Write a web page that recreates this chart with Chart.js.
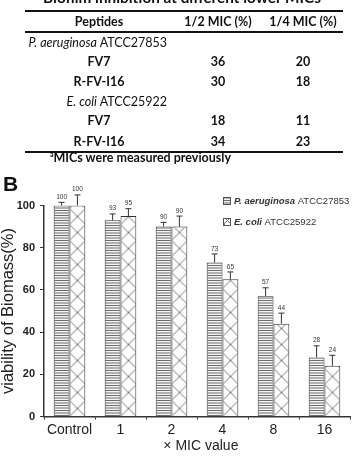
<!DOCTYPE html>
<html>
<head>
<meta charset="utf-8">
<script src="https://cdn.jsdelivr.net/npm/chart.js@4"></script>
<style>
  body { margin: 0; background: #fff; }
  #wrap { position: relative; width: 353px; height: 458px; overflow: hidden; }
  #chart { position: absolute; left: 0; top: 0; }
  .t { position: absolute; font-family: Lato, "Open Sans", sans-serif; font-size: 12.5px; color: #111; white-space: nowrap; line-height: 1; }
  .c { transform: translate(-50%, -50%); }
  .l { transform: translate(0, -50%); }
  .r { transform: translate(-100%, -50%); }
  .b { font-weight: bold; }
  .rule { position: absolute; left: 25px; width: 318px; background: #111; }
</style>
</head>
<body>
<div id="wrap">
  <canvas id="chart" width="353" height="458"></canvas>
</div>
<script>
"use strict";
{
  // table data
  const tableTitle = "Biofilm inhibition at different lower MICs";
  const tableHead = ["Peptides", "1/2 MIC (%)", "1/4 MIC (%)"];
  const strains = [["P. aeruginosa", " ATCC27853"], ["E. coli", " ATCC25922"]];
  const peptides = ["FV7", "R-FV-I16"];
  const halfMic = [[36, 30], [18, 34]];
  const quarterMic = [[20, 18], [11, 23]];
  const footnote = "MICs were measured previously";

  // chart data
  const labels = ["Control", "1", "2", "4", "8", "16"];
  const paValues = [100, 93, 90, 73, 57, 28];
  const paErrors = [1.5, 3, 2, 4, 4, 5.5];
  const ecValues = [100, 95, 90, 65, 44, 24];
  const ecErrors = [5, 3.5, 5, 3.5, 5, 5];
  const yTicks = [0, 20, 40, 60, 80, 100];

  const wrap = document.getElementById("wrap");

  function addText(html, x, y, cls) {
    let d = document.createElement("div");
    d.className = "t " + cls;
    d.style.left = x + "px";
    d.style.top = y + "px";
    d.innerHTML = html;
    wrap.appendChild(d);
    return d;
  }
  function addRule(y, h) {
    let d = document.createElement("div");
    d.className = "rule";
    d.style.top = y + "px";
    d.style.height = h + "px";
    wrap.appendChild(d);
  }

  // table
  let title = addText(tableTitle, 182, -10, "b");
  title.style.fontSize = "15.3px";
  title.style.transform = "translate(-50%, 0)";
  addRule(10, 2);
  addRule(31, 2);
  addRule(151, 2);
  const colX = [99, 218, 303];
  tableHead.forEach((h, i) => addText(h, colX[i], 22, "c b"));
  const rowY = [[43, 62, 82], [102, 121, 142]];
  strains.forEach((s, k) => {
    addText(`<i>${s[0]}</i>${s[1]}`, 167, rowY[k][0], "r");
    peptides.forEach((p, j) => {
      let y = rowY[k][j + 1];
      addText(p, colX[0], y, "c b");
      addText(String(halfMic[k][j]), colX[1], y, "c b");
      addText(String(quarterMic[k][j]), colX[2], y, "c b");
    });
  });
  addText(`<sup style="font-size:7px">a</sup>${footnote}`, 50, 158, "l b");
  let panel = addText("B", 3, 183, "l b");
  panel.style.fontFamily = "Arial, 'Liberation Sans', sans-serif";
  panel.style.fontSize = "21px";

  // fill patterns
  function stripes() {
    let c = document.createElement("canvas");
    c.width = 4; c.height = 5;
    let g = c.getContext("2d");
    g.fillStyle = "#f4f4f4";
    g.fillRect(0, 0, 4, 5);
    g.fillStyle = "#6e6e6e";
    g.fillRect(0, 0, 4, 1);
    g.fillRect(0, 2.5, 4, 1);
    return c;
  }
  function hatch(s) {
    let c = document.createElement("canvas");
    c.width = s; c.height = s;
    let g = c.getContext("2d");
    g.fillStyle = "#fff";
    g.fillRect(0, 0, s, s);
    g.strokeStyle = "#777";
    g.lineWidth = 1;
    g.beginPath();
    g.moveTo(0, 0); g.lineTo(s, s);
    g.moveTo(s, 0); g.lineTo(0, s);
    g.stroke();
    return c;
  }
  const stripeTile = stripes();
  const hatchTile = hatch(16);
  const ctx0 = document.getElementById("chart").getContext("2d");
  const stripePattern = ctx0.createPattern(stripeTile, "repeat");

  function hatchFill(c) {
    let chart = c.chart;
    let xs = chart.scales.x;
    let p = ctx0.createPattern(hatchTile, "repeat");
    if (xs && c.dataIndex !== undefined) {
      let left = xs.getPixelForValue(c.dataIndex);
      p.setTransform(new DOMMatrix().translate(left, chart.scales.y.bottom));
    }
    return p;
  }

  const errorBars = {
    id: "errorBars",
    afterDatasetsDraw(chart) {
      const ctx = chart.ctx;
      const y = chart.scales.y;
      const errs = [paErrors, ecErrors];
      ctx.save();
      ctx.strokeStyle = "#333";
      ctx.lineWidth = 1;
      ctx.fillStyle = "#333";
      ctx.font = "6.5px Arial, 'Liberation Sans', sans-serif";
      ctx.textAlign = "center";
      ctx.textBaseline = "bottom";
      chart.data.datasets.forEach((ds, i) => {
        chart.getDatasetMeta(i).data.forEach((bar, j) => {
          let top = y.getPixelForValue(ds.data[j] + errs[i][j]);
          ctx.beginPath();
          ctx.moveTo(bar.x, bar.y);
          ctx.lineTo(bar.x, top);
          ctx.moveTo(bar.x - 3, top);
          ctx.lineTo(bar.x + 3, top);
          ctx.stroke();
          ctx.fillText(String(ds.data[j]), bar.x, top - 2);
        });
      });
      ctx.restore();
    }
  };

  const legendBox = {
    id: "legendBox",
    afterDraw(chart) {
      const ctx = chart.ctx;
      const items = [
        { fill: stripePattern, y: 201, name: strains[0] },
        { fill: ctx0.createPattern(hatch(7), "repeat"), y: 222, name: strains[1] }
      ];
      ctx.save();
      items.forEach((it) => {
        ctx.fillStyle = it.fill;
        ctx.fillRect(223, it.y - 3.5, 7, 7);
        ctx.strokeStyle = "#555";
        ctx.lineWidth = 1;
        ctx.strokeRect(223.5, it.y - 3.5, 7, 7);
        ctx.fillStyle = "#333";
        ctx.textBaseline = "middle";
        ctx.textAlign = "left";
        ctx.font = "italic bold 9.5px Arial, 'Liberation Sans', sans-serif";
        ctx.fillText(it.name[0], 234, it.y);
        let w = ctx.measureText(it.name[0]).width;
        ctx.font = "9.5px Arial, 'Liberation Sans', sans-serif";
        ctx.fillText(it.name[1], 234 + w, it.y);
      });
      ctx.restore();
    }
  };

  new Chart(document.getElementById("chart"), {
    type: "bar",
    data: {
      labels: labels,
      datasets: [
        {
          label: strains[0].join(""),
          data: paValues,
          backgroundColor: stripePattern,
          borderColor: "#333",
          borderWidth: 1,
        },
        {
          label: strains[1].join(""),
          data: ecValues,
          backgroundColor: hatchFill,
          borderColor: "#333",
          borderWidth: 1,
        },
      ],
    },
    options: {
      responsive: false,
      animation: false,
      layout: { padding: { top: 205.5, right: 3, left: 0, bottom: 0 } },
      plugins: { legend: { display: false }, tooltip: { enabled: false } },
      datasets: { bar: { categoryPercentage: 0.62, barPercentage: 1 } },
      scales: {
        x: {
          afterFit: (s) => { s.height = 41.5; },
          grid: { drawOnChartArea: false, tickLength: 3, color: "#333" },
          border: { color: "#333", width: 1.5 },
          ticks: {
            color: "#222",
            padding: 2,
            maxRotation: 0,
            minRotation: 0,
            autoSkip: false,
            font: { family: "Arial, 'Liberation Sans', sans-serif", size: 14 },
          },
          title: {
            display: true,
            text: "\u00a0\u00a0\u00d7 MIC value",
            color: "#222",
            padding: { top: 0, bottom: 3.5 },
            font: { family: "Arial, 'Liberation Sans', sans-serif", size: 14 },
          },
        },
        y: {
          min: 0,
          max: 100,
          afterFit: (s) => { s.width = 44; },
          afterBuildTicks: (s) => { s.ticks = yTicks.map((v) => ({ value: v })); },
          grid: { drawOnChartArea: false, tickLength: 4, color: "#333" },
          border: { color: "#333", width: 1.5 },
          ticks: { color: "#222", padding: 5, font: { family: "Arial, 'Liberation Sans', sans-serif", size: 11, weight: "bold" } },
          title: {
            display: true,
            text: "viability of Biomass(%)",
            color: "#222",
            padding: 0,
            font: { family: "Arial, 'Liberation Sans', sans-serif", size: 16.5, lineHeight: 1 },
          },
        },
      },
    },
    plugins: [errorBars, legendBox],
  });
}
</script>
</body>
</html>
